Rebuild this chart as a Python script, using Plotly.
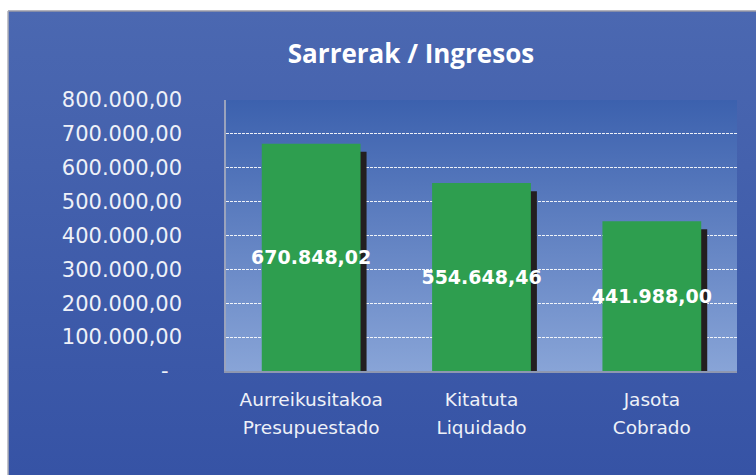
import base64
import plotly.graph_objects as go

labels_eu = ["Aurreikusitakoa", "Kitatuta", "Jasota"]
labels_es = ["Presupuestado", "Liquidado", "Cobrado"]
values = [670848.02, 554648.46, 441988.00]
value_labels = ["670.848,02", "554.648,46", "441.988,00"]
tick_vals = [0, 100000, 200000, 300000, 400000, 500000, 600000, 700000, 800000]
tick_text = ["-\u00a0\u00a0", "100.000,00", "200.000,00", "300.000,00", "400.000,00",
             "500.000,00", "600.000,00", "700.000,00", "800.000,00"]

categories = [f"{a} / {b}" for a, b in zip(labels_eu, labels_es)]

W, H = 756, 475
L, R, T, B = 226, 19, 100, 104
pw, ph = W - L - R, H - T - B


def grad_svg(top, bottom):
    svg = ('<svg xmlns="http://www.w3.org/2000/svg" width="100" height="100" preserveAspectRatio="none">'
           '<defs><linearGradient id="g" x1="0" y1="0" x2="0" y2="1">'
           f'<stop offset="0" stop-color="{top}"/><stop offset="1" stop-color="{bottom}"/>'
           '</linearGradient></defs><rect width="100" height="100" fill="url(#g)"/></svg>')
    return "data:image/svg+xml;base64," + base64.b64encode(svg.encode()).decode()


def px2x(px):
    return (px - L) / pw


def py2y(py):
    return (H - B - py) / ph


bar_w = 0.58
shadow_dx = 6 / (pw / 3)
shadow_drop = 5 * 100000 / (ph / 8)

fig = go.Figure()
fig.add_trace(go.Bar(
    x=categories, y=[v - shadow_drop for v in values], base=-9000,
    width=bar_w, offset=-bar_w / 2 + shadow_dx,
    marker=dict(color="#231f20", line=dict(width=0)),
    hoverinfo="skip", showlegend=False, cliponaxis=False,
))
fig.add_trace(go.Bar(
    x=categories, y=values, width=bar_w, offset=-bar_w / 2,
    marker=dict(color="#2e9e4f", line=dict(width=0)),
    text=value_labels, textposition="inside", insidetextanchor="middle",
    constraintext="none", textangle=0,
    textfont=dict(family="DejaVu Sans", size=19, color="white", weight="bold"),
    showlegend=False,
))
# invisible carrier so the second-line category axis is drawn
fig.add_trace(go.Scatter(
    x=categories, y=[0] * len(categories), xaxis="x2", mode="markers",
    marker=dict(opacity=0, size=1), hoverinfo="skip", showlegend=False,
))

axis_font = dict(family="DejaVu Sans", size=18.5, color="#eef1f8")

fig.update_layout(
    width=W, height=H,
    margin=dict(l=L, r=R, t=T, b=B),
    paper_bgcolor="white",
    plot_bgcolor="rgba(0,0,0,0)",
    barmode="overlay",
    title=dict(text="<b>Sarrerak / Ingresos</b>", x=411 / W, xanchor="center",
               y=1 - 54 / H, yanchor="middle",
               font=dict(family="Open Sans", size=26, color="white")),
    images=[
        dict(source=grad_svg("#4b68b1", "#3653a5"), xref="paper", yref="paper",
             x=px2x(8), y=py2y(11), sizex=px2x(W) - px2x(8), sizey=py2y(11) - py2y(H),
             sizing="stretch", layer="below", xanchor="left", yanchor="top"),
        dict(source=grad_svg("#3c61ae", "#88a4d7"), xref="paper", yref="paper",
             x=0, y=1, sizex=1, sizey=1,
             sizing="stretch", layer="below", xanchor="left", yanchor="top"),
    ],
    shapes=[
        dict(type="line", xref="paper", yref="paper", x0=px2x(8), x1=px2x(W), y0=py2y(11), y1=py2y(11),
             line=dict(color="#9a9aa6", width=1.5), layer="below"),
        dict(type="line", xref="paper", yref="paper", x0=px2x(8), x1=px2x(8), y0=py2y(11), y1=py2y(H),
             line=dict(color="#b0b0b8", width=1.5), layer="below"),
    ],
    xaxis=dict(
        type="category", categoryorder="array", categoryarray=categories,
        tickvals=categories, ticktext=labels_eu,
        tickfont=axis_font,
        showline=True, linecolor="#8e97b0", linewidth=1.5,
        ticks="outside", ticklen=11, tickcolor="rgba(0,0,0,0)",
        showgrid=False,
    ),
    xaxis2=dict(
        type="category", categoryorder="array", categoryarray=categories,
        overlaying="x", matches="x", side="bottom", anchor="y",
        tickvals=categories, ticktext=labels_es,
        tickfont=axis_font,
        showline=False, showgrid=False, zeroline=False,
        ticks="outside", ticklen=40, tickcolor="rgba(0,0,0,0)",
    ),
    yaxis=dict(
        range=[0, 800000],
        tickvals=tick_vals, ticktext=tick_text,
        tickfont=dict(family="DejaVu Sans", size=21, color="#eef1f8"),
        showline=True, linecolor="#9aa3bd", linewidth=1.5,
        ticks="outside", ticklen=38, tickcolor="rgba(0,0,0,0)",
        showgrid=True, gridcolor="rgba(255,255,255,0.9)", gridwidth=1, griddash="3px,1px",
        zeroline=False,
    ),
)

fig.write_html("out.html", config={"displayModeBar": False},
               post_script="document.body.style.margin='0';document.body.style.overflow='hidden';")
